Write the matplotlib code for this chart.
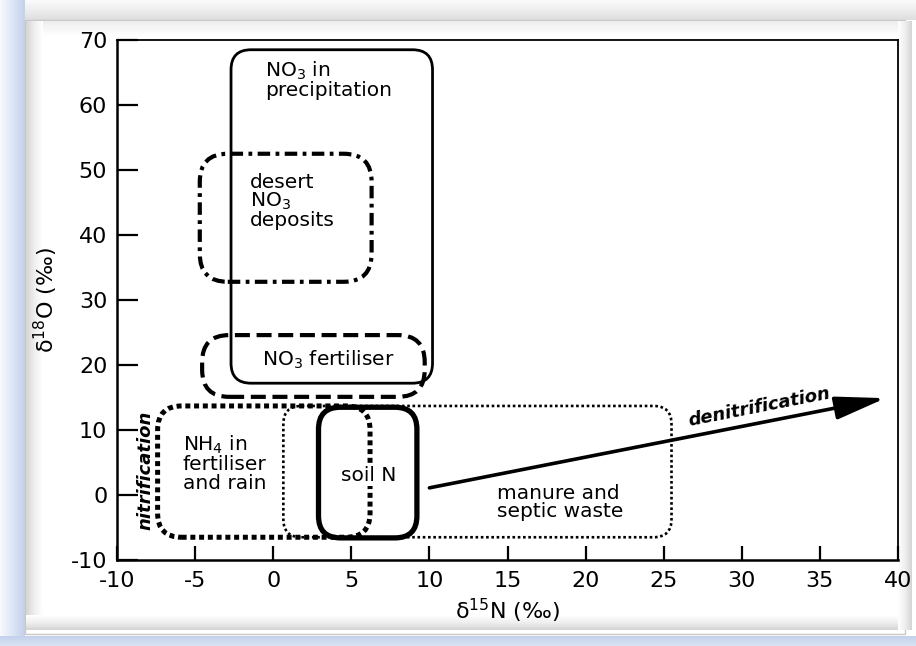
import numpy as np
import matplotlib
matplotlib.use("Agg")
import matplotlib.pyplot as plt
from matplotlib.patches import FancyBboxPatch, Rectangle
from matplotlib.colors import LinearSegmentedColormap

plt.rcParams['font.family'] = ['DejaVu Sans']
plt.rcParams['mathtext.fontset'] = 'dejavusans'
plt.rcParams['axes.unicode_minus'] = False

# ---- data (per mil) ----
box_names = ['NO3 precipitation', 'desert NO3 deposits', 'NO3 fertiliser',
             'NH4 fertiliser and rain', 'manure and septic waste', 'soil N']
box_x0 = [-2.7, -4.7, -4.55, -7.4, 0.65, 2.9]
box_x1 = [10.2, 6.3, 9.7, 6.2, 25.5, 9.2]
box_y0 = [17.2, 32.8, 15.1, -6.5, -6.5, -6.6]
box_y1 = [68.5, 52.5, 24.6, 13.7, 13.7, 13.5]

arrow_start = (10.0, 1.1)
arrow_end = (39.2, 14.9)

x_ticks = [-10, -5, 0, 5, 10, 15, 20, 25, 30, 35, 40]
y_ticks = [-10, 0, 10, 20, 30, 40, 50, 60, 70]

W, H = 916, 646
fig = plt.figure(figsize=(W / 100, H / 100), dpi=100)
fig.patch.set_facecolor('white')

# ---- decorative bevel frame ----
bg = fig.add_axes([0, 0, 1, 1], zorder=0)
bg.set_xlim(0, W)
bg.set_ylim(H, 0)
bg.axis('off')
g = np.linspace(0, 1, 64)
vert = np.tile(g[:, None], (1, 2))
horz = np.tile(g[None, :], (2, 1))
topc = LinearSegmentedColormap.from_list('t', ['#fbfbfb', '#eeeeee', '#dedede'])
bg.imshow(vert, cmap=topc, extent=(0, W, 20, 0), aspect='auto', zorder=0)
blue = LinearSegmentedColormap.from_list('b', ['#f7f9fd', '#dde6f5', '#c3d1ec'])
bg.imshow(horz, cmap=blue, extent=(0, 25, H, 0), aspect='auto', zorder=0)
bg.imshow(vert, cmap=LinearSegmentedColormap.from_list('b2', ['#c3d1ec', '#d9e2f3']),
          extent=(0, W, H, 636), aspect='auto', zorder=0)
# panel
bg.add_patch(Rectangle((25, 20), 880, 614, facecolor='white', edgecolor='#c8c8c8', lw=1, zorder=1))
grey = LinearSegmentedColormap.from_list('g', ['#d4d4d4', '#efefef', '#ffffff'])
bg.imshow(horz, cmap=grey, extent=(26, 43, 630, 21), aspect='auto', zorder=2)
bg.imshow(vert[::-1], cmap=grey, extent=(26, 904, 630, 615), aspect='auto', zorder=2)
bg.imshow(horz[:, ::-1], cmap=grey, extent=(898, 912, 630, 21), aspect='auto', zorder=2)
bg.imshow(vert, cmap=LinearSegmentedColormap.from_list('g2', ['#eeeeee', '#ffffff']),
          extent=(43, 898, 36, 21), aspect='auto', zorder=2)

# ---- main axes ----
ax = fig.add_axes([117 / W, 1 - 560 / H, (898 - 117) / W, (560 - 40) / H], zorder=3)
ax.set_xlim(-10, 40)
ax.set_ylim(-10, 70)
ax.set_facecolor('white')

fig.canvas.draw()
p0 = ax.transData.transform((0, 0))
p1 = ax.transData.transform((1, 1))
px_per_x = p1[0] - p0[0]
px_per_y = p1[1] - p0[1]
asp = px_per_x / px_per_y

styles = [
    dict(r=20, lw=2.0, ls='-'),
    dict(r=28, lw=3.0, ls=(0, (3.0, 1.3, 0.9, 1.3))),
    dict(r=27, lw=3.0, ls=(0, (3.6, 1.6))),
    dict(r=24, lw=3.6, ls=(0, (1.0, 0.75))),
    dict(r=18, lw=1.9, ls=(0, (1.0, 1.0))),
    dict(r=22, lw=3.8, ls='-'),
]
for x0, x1, y0, y1, st in zip(box_x0, box_x1, box_y0, box_y1, styles):
    r = st['r'] / px_per_x
    p = FancyBboxPatch((x0, y0), x1 - x0, y1 - y0,
                       boxstyle=f"round,pad=0,rounding_size={r}",
                       mutation_aspect=asp, fill=False, edgecolor='black',
                       lw=st['lw'], ls=st['ls'], capstyle='butt', zorder=2)
    ax.add_patch(p)

ax.annotate('', xy=arrow_end, xytext=arrow_start,
            arrowprops=dict(arrowstyle='-|>,head_length=1.4,head_width=0.32',
                            lw=2.6, color='black', mutation_scale=22,
                            shrinkA=0, shrinkB=0), zorder=4)

fs = 14.5
ax.text(-0.5, 67.0, 'NO$_3$ in\nprecipitation', fontsize=fs, va='top', ha='left', linespacing=0.95, zorder=5)
ax.text(-1.5, 49.6, 'desert\nNO$_3$\ndeposits', fontsize=fs, va='top', ha='left', linespacing=0.95, zorder=5)
ax.text(-0.7, 20.8, 'NO$_3$ fertiliser', fontsize=fs, va='center', ha='left', zorder=5)
ax.text(-5.8, 4.9, 'NH$_4$ in\nfertiliser\nand rain', fontsize=fs, va='center', ha='left', linespacing=0.95, zorder=5)
ax.text(6.1, 3.0, 'soil N', fontsize=fs, va='center', ha='center', zorder=5,
        bbox=dict(facecolor='white', edgecolor='none', pad=1.0))
ax.text(14.3, -1.1, 'manure and\nseptic waste', fontsize=fs, va='center', ha='left', linespacing=0.95, zorder=5)
ax.text(-8.2, 3.8, 'nitrification', fontsize=13, rotation=90, va='center', ha='center',
        style='italic', fontweight='bold', zorder=5)
ang = np.degrees(np.arctan2((arrow_end[1] - arrow_start[1]) * px_per_y,
                            (arrow_end[0] - arrow_start[0]) * px_per_x))
ax.text(31.1, 13.5, 'denitrification', fontsize=13, rotation=ang, va='center', ha='center',
        style='italic', fontweight='bold', rotation_mode='anchor', zorder=5)

# ---- axes styling ----
ax.set_xticks(x_ticks)
ax.set_yticks(y_ticks)
ax.tick_params(axis='x', direction='in', length=10, width=1.6, pad=8, labelsize=16)
ax.tick_params(axis='y', direction='in', length=15, width=1.6, pad=7, labelsize=16)
for s in ['left', 'bottom']:
    ax.spines[s].set_linewidth(1.8)
for s in ['top', 'right']:
    ax.spines[s].set_linewidth(1.3)
ax.set_xlabel('δ$^{15}$N (‰)', fontsize=16, labelpad=4)
ax.set_ylabel('δ$^{18}$O (‰)', fontsize=16, labelpad=8)

fig.savefig('out.png', dpi=100)
